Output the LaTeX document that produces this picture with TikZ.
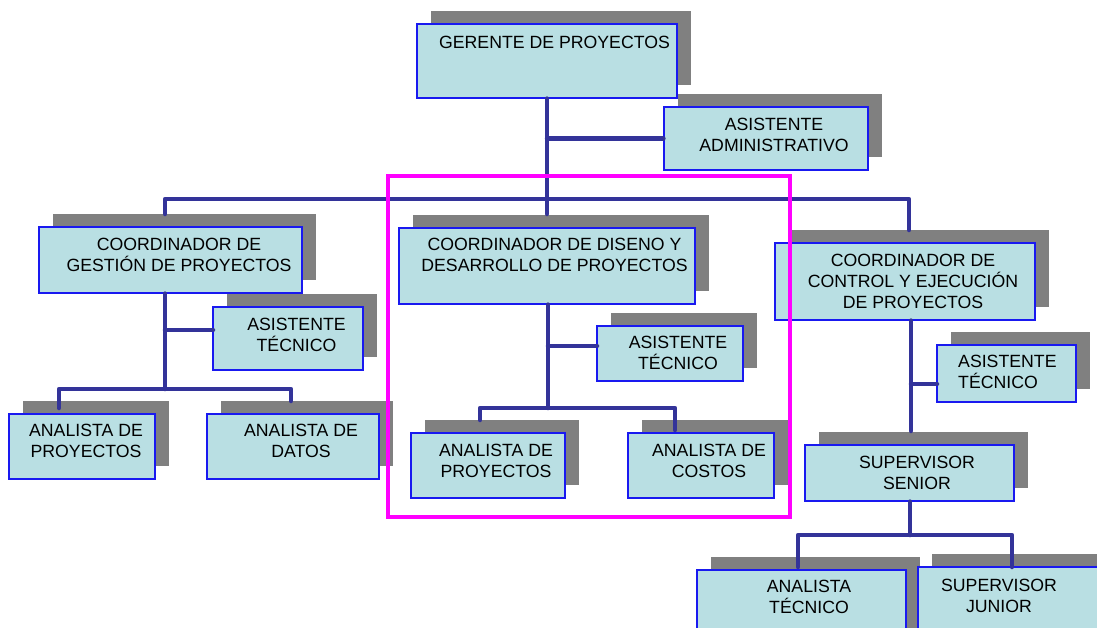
\documentclass[tikz,border=0pt]{standalone}
\usepackage{fontspec}
\setmainfont{Liberation Sans}
\usetikzlibrary{shadows}

\definecolor{boxfill}{RGB}{185,223,227}
\definecolor{boxline}{RGB}{25,25,240}
\definecolor{shade}{RGB}{128,128,128}
\definecolor{linkblue}{RGB}{51,51,153}
\definecolor{framecol}{RGB}{255,0,255}

\tikzset{
  orgbox/.style={draw=boxline, line width=1.2pt, fill=boxfill, inner sep=0pt,
    general shadow={fill=shade, shadow xshift=13.5pt, shadow yshift=13pt}},
  boxtext/.style={inner sep=0pt, align=center, font=\fontsize{17.7}{21}\selectfont},
  link/.style={draw=linkblue, line width=4.5pt, line cap=round, line join=round},
}

% \orgunit{name}{x1}{y1}{x2}{y2}: box with its shadow, corners in pixels
\newcommand\orgunit[5]{%
  \node[orgbox, minimum width={(#4-#2)*1pt}, minimum height={(#5-#3)*1pt}]
    (#1) at ({(#2+#4)/2},{(#3+#5)/2}) {};}

\begin{document}
\begin{tikzpicture}[x=1pt,y=-1pt]
\useasboundingbox (0,0) rectangle (1097,627);
\clip (0,0) rectangle (1097,627);

% boxes
\orgunit{gp}{417}{24}{677}{98}
\orgunit{aa}{664}{107}{868}{170}
\orgunit{cg}{39}{227}{302}{293}
\orgunit{atl}{213}{307}{363}{370}
\orgunit{apl}{9}{414}{155}{479}
\orgunit{ad}{207}{414}{379}{479}
\orgunit{cd}{399}{228}{695}{304}
\orgunit{atm}{597}{326}{743}{381}
\orgunit{apm}{411}{433}{565}{498}
\orgunit{ac}{628}{433}{774}{498}
\orgunit{cc}{775}{243}{1035}{320}
\orgunit{atr}{937}{345}{1076}{402}
\orgunit{ss}{805}{445}{1014}{501}
\orgunit{at}{697}{570}{906}{645}
\orgunit{sj}{918}{567}{1115}{645}

% texts
\node[boxtext] (gp-t) at (554.5,42.5) {GERENTE DE PROYECTOS};
\node[boxtext] (aa-t) at (774,135) {ASISTENTE\\ADMINISTRATIVO};
\node[boxtext] (cg-t) at (179,255) {COORDINADOR DE\\GESTIÓN DE PROYECTOS};
\node[boxtext] (atl-t) at (296.5,335) {ASISTENTE\\TÉCNICO};
\node[boxtext] (apl-t) at (86,441) {ANALISTA DE\\PROYECTOS};
\node[boxtext] (ad-t) at (301,441) {ANALISTA DE\\DATOS};
\node[boxtext] (cd-t) at (554.5,255) {COORDINADOR DE DISENO Y\\DESARROLLO DE PROYECTOS};
\node[boxtext] (atm-t) at (678,353) {ASISTENTE\\TÉCNICO};
\node[boxtext] (apm-t) at (496,461) {ANALISTA DE\\PROYECTOS};
\node[boxtext] (ac-t) at (709,461) {ANALISTA DE\\COSTOS};
\node[boxtext] (cc-t) at (913,281) {COORDINADOR DE\\CONTROL Y EJECUCIÓN\\DE PROYECTOS};
\node[boxtext, align=left, anchor=west] (atr-t) at (958,372) {ASISTENTE\\TÉCNICO};
\node[boxtext] (ss-t) at (917,473) {SUPERVISOR\\SENIOR};
\node[boxtext] (at-t) at (809,597) {ANALISTA\\TÉCNICO};
\node[boxtext] (sj-t) at (999,596) {SUPERVISOR\\JUNIOR};

% junction points
\coordinate (main) at (547,199);
\coordinate (cgTop) at (165,214);
\coordinate (cdTop) at (547,214);
\coordinate (ccTop) at (909,230);
\coordinate (cgBar) at (165,389);
\coordinate (atlJ) at (213,330);
\coordinate (aplTop) at (59,408);
\coordinate (adTop) at (291,401);
\coordinate (cdBar) at (548,408);
\coordinate (atmJ) at (597,346);
\coordinate (apmTop) at (480,420);
\coordinate (acTop) at (675,430);
\coordinate (ccEnd) at (911,431);
\coordinate (atrJ) at (937,384);
\coordinate (ssBar) at (910,535);
\coordinate (atTop) at (798,567);
\coordinate (sjTop) at (1012,567);

% connectors
\draw[link] (gp.south) -- (cdTop);
\draw[link] (gp.south |- aa.west) -- (aa.west);
\draw[link] (cgTop) -- (cgTop |- main) -- (ccTop |- main) -- (ccTop);

\draw[link] (cgBar |- cg.south) -- (cgBar);
\draw[link] (cgBar |- atlJ) -- (atlJ);
\draw[link] (aplTop) -- (aplTop |- cgBar) -- (adTop |- cgBar) -- (adTop);

\draw[link] (cdBar |- cd.south) -- (cdBar);
\draw[link] (cdBar |- atmJ) -- (atmJ);
\draw[link] (apmTop) -- (apmTop |- cdBar) -- (acTop |- cdBar) -- (acTop);

\draw[link] (ccEnd |- cc.south) -- (ccEnd);
\draw[link] (ccEnd |- atrJ) -- (atrJ);

\draw[link] (ssBar |- ss.south) -- (ssBar);
\draw[link] (atTop) -- (atTop |- ssBar) -- (sjTop |- ssBar) -- (sjTop);

% highlight frame round the design branch
\draw[draw=framecol, line width=3.5pt] (388,176) rectangle (790,517);
\end{tikzpicture}
\end{document}
